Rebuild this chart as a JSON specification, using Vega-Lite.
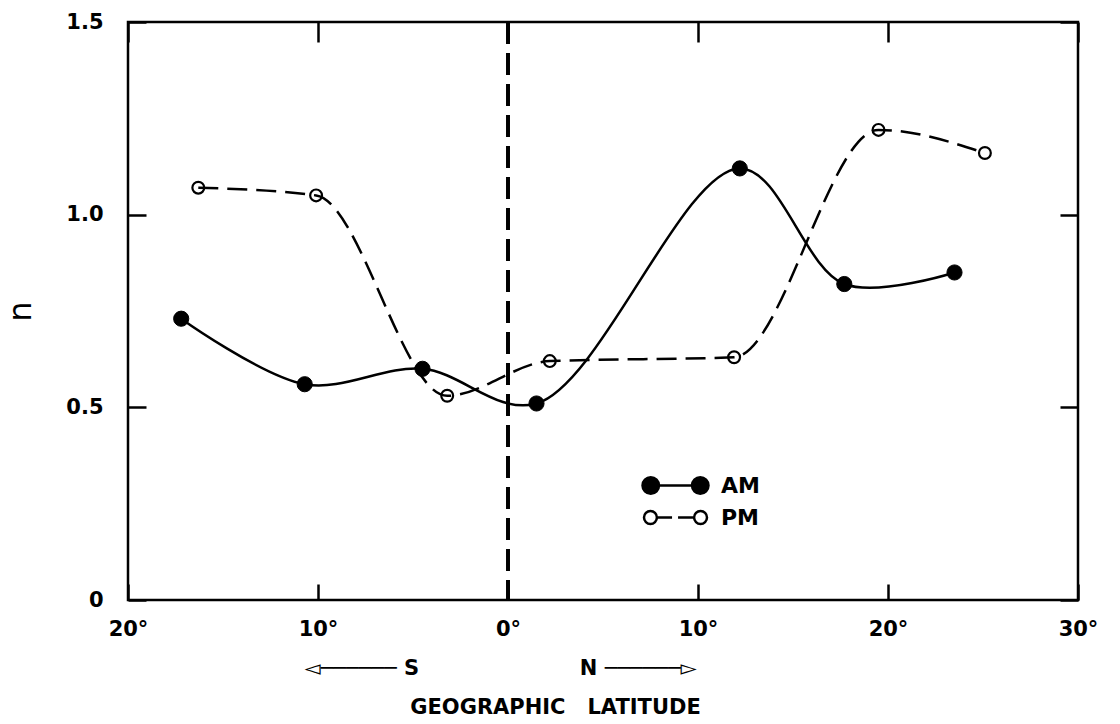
{
  "$schema": "https://vega.github.io/schema/vega-lite/v6.json",
  "width": 950,
  "height": 578,
  "autosize": "none",
  "padding": {"left": 128, "top": 22, "right": 42, "bottom": 124},
  "background": "white",
  "config": {
    "font": "DejaVu Sans",
    "view": {"stroke": "black", "strokeWidth": 2.5},
    "axis": {"grid": false, "domain": false, "tickColor": "black", "tickWidth": 2.5, "labelColor": "black", "titleColor": "black", "titleFontWeight": "bold", "labelFontWeight": "bold", "labelFontSize": 21},
    "legend": {"symbolStrokeColor": "black", "symbolStrokeWidth": 2.5}
  },
  "data": {"values": [
    {"series": "AM", "lat": -17.2, "n": 0.73},
    {"series": "AM", "lat": -10.7, "n": 0.56},
    {"series": "AM", "lat": -4.5, "n": 0.60},
    {"series": "AM", "lat": 1.5, "n": 0.51},
    {"series": "AM", "lat": 12.2, "n": 1.12},
    {"series": "AM", "lat": 17.7, "n": 0.82},
    {"series": "AM", "lat": 23.5, "n": 0.85},
    {"series": "PM", "lat": -16.3, "n": 1.07},
    {"series": "PM", "lat": -10.1, "n": 1.05},
    {"series": "PM", "lat": -3.2, "n": 0.53},
    {"series": "PM", "lat": 2.2, "n": 0.62},
    {"series": "PM", "lat": 11.9, "n": 0.63},
    {"series": "PM", "lat": 19.5, "n": 1.22},
    {"series": "PM", "lat": 25.1, "n": 1.16}
  ]},
  "resolve": {"axis": {"x": "independent", "y": "independent"}},
  "layer": [
    {
      "mark": {"type": "rule", "strokeDash": [22, 9], "strokeWidth": 2.5, "color": "black"},
      "encoding": {"x": {"datum": 0, "type": "quantitative", "axis": null}}
    },
    {
      "transform": [{"filter": "datum.series === 'AM'"}],
      "mark": {"type": "line", "interpolate": "catmull-rom", "color": "black", "strokeWidth": 2.5},
      "encoding": {
        "x": {"field": "lat", "type": "quantitative", "scale": {"domain": [-20, 30], "nice": false, "zero": false},
          "axis": {"orient": "bottom", "values": [-20, -10, 0, 10, 20, 30], "labelExpr": "abs(datum.value) + '°'", "tickSize": -16, "labelPadding": 34, "labelFlush": false,
            "title": ["◅────── S\u00a0\u00a0\u00a0\u00a0\u00a0\u00a0\u00a0\u00a0\u00a0\u00a0\u00a0\u00a0\u00a0\u00a0\u00a0\u00a0\u00a0\u00a0\u00a0\u00a0\u00a0\u00a0N ──────▻\u00a0\u00a0\u00a0\u00a0\u00a0\u00a0\u00a0\u00a0\u00a0\u00a0\u00a0\u00a0\u00a0\u00a0\u00a0\u200b", "GEOGRAPHIC\u00a0\u00a0\u00a0LATITUDE"],
            "titleFontSize": 21, "titleLineHeight": 39, "titlePadding": 18, "titleX": 427}},
        "y": {"field": "n", "type": "quantitative", "scale": {"domain": [0, 1.5], "nice": false},
          "axis": {"orient": "left", "values": [0, 0.5, 1, 1.5], "labelExpr": "datum.value == 0 ? '0' : format(datum.value, '.1f')", "tickSize": -18, "labelPadding": 43,
            "title": "n", "titleFontSize": 32, "titleFontWeight": "normal", "titlePadding": 28}}
      }
    },
    {
      "transform": [{"filter": "datum.series === 'PM'"}],
      "mark": {"type": "line", "interpolate": "monotone", "color": "black", "strokeWidth": 2.5, "strokeDash": [20, 9]},
      "encoding": {
        "x": {"field": "lat", "type": "quantitative", "axis": null},
        "y": {"field": "n", "type": "quantitative", "axis": null}
      }
    },
    {
      "transform": [{"filter": "datum.series === 'AM'"}],
      "mark": {"type": "point", "filled": true, "shape": "circle", "fill": "black", "stroke": "black", "strokeWidth": 1, "size": 230, "opacity": 1},
      "encoding": {
        "x": {"field": "lat", "type": "quantitative",
          "axis": {"orient": "top", "values": [-20, -10, 0, 10, 20, 30], "labels": false, "tickSize": -20, "title": null}},
        "y": {"field": "n", "type": "quantitative",
          "axis": {"orient": "right", "values": [0, 0.5, 1, 1.5], "labels": false, "tickSize": -18, "title": null}}
      }
    },
    {
      "transform": [{"filter": "datum.series === 'PM'"}],
      "mark": {"type": "point", "filled": false, "shape": "circle", "stroke": "black", "strokeWidth": 2.2, "size": 140, "opacity": 1},
      "encoding": {
        "x": {"field": "lat", "type": "quantitative", "axis": null},
        "y": {"field": "n", "type": "quantitative", "axis": null}
      }
    },
    {
      "transform": [{"filter": "false"}],
      "mark": {"type": "point", "filled": true, "opacity": 1, "stroke": "black", "strokeWidth": 2.5},
      "encoding": {
        "fill": {"field": "series", "type": "nominal", "scale": {"domain": ["AM", "PM"], "range": ["black", "transparent"]},
          "legend": {"title": null, "orient": "none", "legendX": 531, "legendY": 447, "padding": 0, "rowPadding": 2, "labelFontSize": 22, "labelFontWeight": "bold", "labelColor": "black", "labelOffset": 29, "symbolSize": 900, "symbolStrokeColor": "black", "symbolStrokeWidth": 2.5}},
        "stroke": {"field": "series", "type": "nominal", "scale": {"domain": ["AM", "PM"], "range": ["black", "black"]},
          "legend": {"title": null, "orient": "none", "legendX": 531, "legendY": 447, "padding": 0, "rowPadding": 2, "labelFontSize": 22, "labelFontWeight": "bold", "labelColor": "black", "labelOffset": 29, "symbolSize": 900, "symbolStrokeColor": "black", "symbolStrokeWidth": 2.5}},
        "shape": {"field": "series", "type": "nominal", "scale": {"domain": ["AM", "PM"], "range": [
          "M-1.1,0A0.55,0.55,0,1,0,-2.2,0A0.55,0.55,0,1,0,-1.1,0ZM2.2,0A0.55,0.55,0,1,0,1.1,0A0.55,0.55,0,1,0,2.2,0ZM-1.1,0L1.1,0",
          "M-1.24,0A0.43,0.43,0,1,0,-2.1,0A0.43,0.43,0,1,0,-1.24,0ZM2.1,0A0.43,0.43,0,1,0,1.24,0A0.43,0.43,0,1,0,2.1,0ZM-1.24,0L-0.23,0M0.17,0L1.24,0"]},
          "legend": {"title": null, "orient": "none", "legendX": 531, "legendY": 447, "padding": 0, "rowPadding": 2, "labelFontSize": 22, "labelFontWeight": "bold", "labelColor": "black", "labelOffset": 29, "symbolSize": 900, "symbolStrokeColor": "black", "symbolStrokeWidth": 2.5}}
      }
    }
  ]
}
